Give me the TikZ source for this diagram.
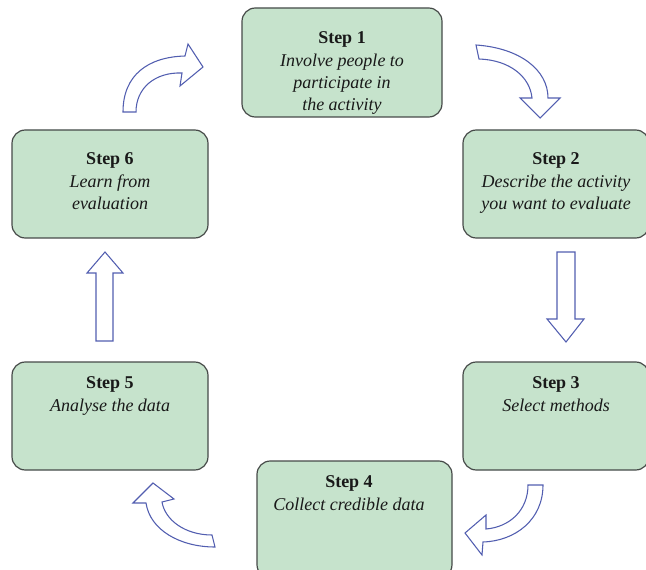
\documentclass[tikz,border=0pt]{standalone}
\usepackage{fontspec}
\setmainfont{Liberation Serif}
\definecolor{boxfill}{RGB}{198,227,204}
\definecolor{boxline}{RGB}{70,74,72}
\definecolor{arrowline}{RGB}{82,94,176}
\definecolor{inktext}{RGB}{25,25,25}
\begin{document}
\begin{tikzpicture}[x=0.75pt,y=-0.75pt,
  stepbox/.style={draw=boxline,fill=boxfill,line width=0.9pt,rounded corners=10pt,inner sep=0pt},
  steptext/.style={anchor=north,align=center,inner sep=0pt,text=inktext,
    font=\fontsize{13.5}{16.8}\selectfont},
  blockarrow/.style={draw=arrowline,fill=white,line width=0.8pt,line join=miter}]
\useasboundingbox (0,0) rectangle (646,570);

% step boxes
\node[stepbox,minimum width=150pt,minimum height=81.75pt] (b1) at (342,62.5) {};
\node[stepbox,minimum width=139.5pt,minimum height=81pt] (b2) at (556,184) {};
\node[stepbox,minimum width=139.5pt,minimum height=81pt] (b3) at (556,416) {};
\node[stepbox,minimum width=146.25pt,minimum height=87.75pt] (b4) at (354.5,519.5) {};
\node[stepbox,minimum width=147pt,minimum height=81pt] (b5) at (110,416) {};
\node[stepbox,minimum width=147pt,minimum height=81pt] (b6) at (110,184) {};

% step texts
\node[steptext] (t1) at (342,31.5) {\textbf{Step 1}\\\textit{Involve people to}\\\textit{participate in}\\\textit{the activity}};
\node[steptext] (t2) at (556,152.5) {\textbf{Step 2}\\\textit{Describe the activity}\\\textit{you want to evaluate}};
\node[steptext] (t3) at (556,376.5) {\textbf{Step 3}\\\textit{Select methods}};
\node[steptext] (t4) at (349,475.5) {\textbf{Step 4}\\\textit{Collect credible data}};
\node[steptext] (t5) at (110,376.5) {\textbf{Step 5}\\\textit{Analyse the data}};
\node[steptext] (t6) at (110,152.5) {\textbf{Step 6}\\\textit{Learn from}\\\textit{evaluation}};

% block arrows between the steps
% 6 -> 1
\draw[blockarrow] (123,112) .. controls (123,75) and (148,57) .. (185,56)
  -- (188,44) -- (203,67) -- (180,86) -- (182,73)
  .. controls (155,72) and (136,88) .. (136,112) -- cycle;
% 1 -> 2
\draw[blockarrow] (476,45) .. controls (520,48) and (548,70) .. (548,98)
  -- (560,98) -- (540,118) -- (520,98) -- (532,98)
  .. controls (530,77) and (510,60) .. (479,59) -- cycle;
% 2 -> 3
\draw[blockarrow] (557,252) -- (575,252) -- (575,319) -- (584,319)
  -- (566,342) -- (547,319) -- (557,319) -- cycle;
% 3 -> 4
\draw[blockarrow] (543,485) .. controls (543,520) and (515,541) .. (483,542)
  -- (482,555) -- (465,533) -- (486,515) -- (486,529)
  .. controls (510,527) and (528,510) .. (528,485) -- cycle;
% 4 -> 5
\draw[blockarrow] (215,547) .. controls (180,547) and (150,530) .. (146,503)
  -- (133,503) -- (153,483) -- (174,499) -- (162,502)
  .. controls (165,520) and (185,535) .. (212,535) -- cycle;
% 5 -> 6
\draw[blockarrow] (96,341) -- (113,341) -- (113,273) -- (123,273)
  -- (105,252) -- (87,273) -- (96,273) -- cycle;
\end{tikzpicture}
\end{document}
